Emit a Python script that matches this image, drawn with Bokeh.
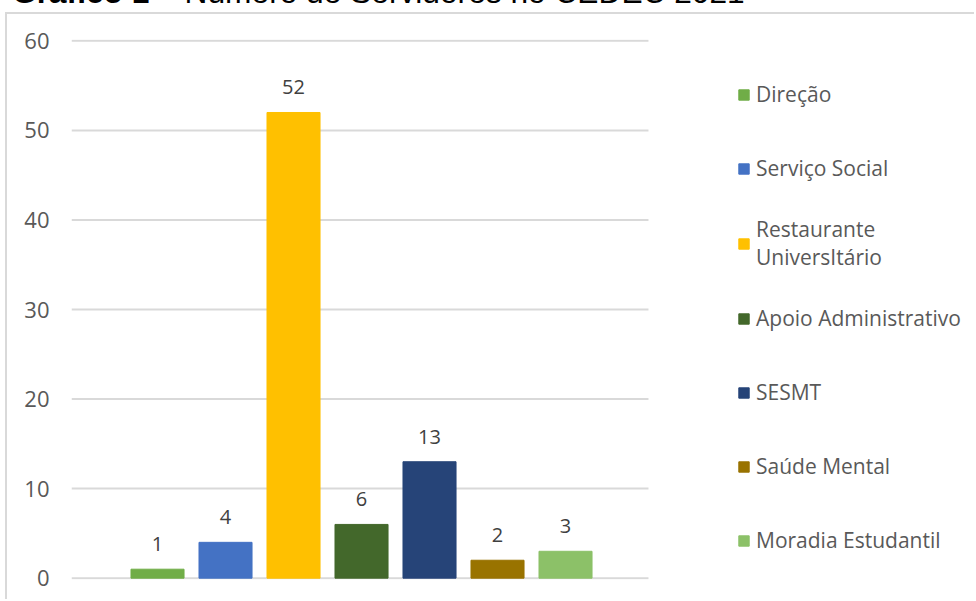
from bokeh.plotting import figure
from bokeh.layouts import column
from bokeh.models import (Range1d, Div, Legend, LegendItem, ColumnDataSource, FixedTicker)
from bokeh.embed import file_html
from bokeh.resources import INLINE
from bokeh.core.properties import value

title_bold = "Gráfico 1"
title_rest = "– Número de Servidores no CEDEC 2021"
categories = ["Direção", "Serviço Social", "Restaurante\nUniversItário",
              "Apoio Administrativo", "SESMT", "Saúde Mental", "Moradia Estudantil"]
values = [1, 4, 52, 6, 13, 2, 3]
colors = ["#70AD47", "#4472C4", "#FFC000", "#43682B", "#264478", "#997300", "#8CC168"]
y_ticks = [0, 10, 20, 30, 40, 50, 60]

FONT = "Open Sans"
TEXT_GRAY = "#595959"
BORDER = "#D9D9D9"

src = ColumnDataSource(dict(
    x=list(range(len(values))),
    top=values,
    color=colors,
    label=[str(v) for v in values],
))

# frame spans the whole area right of the value axis; gridlines stop before the legend
X_START, X_END, GRID_END = -1.265, 12.044, 7.22

p = figure(width=969, height=587, output_backend="svg", toolbar_location=None,
           x_range=Range1d(X_START, X_END), y_range=Range1d(-0.15, 60.15),
           min_border_left=64, min_border_right=0, min_border_top=25,
           min_border_bottom=22,
           styles={"border-left": f"2px solid {BORDER}", "border-top": f"2px solid {BORDER}"})
p.margin = (0, 0, 0, 5)
p.outline_line_color = None
p.background_fill_color = "white"
p.border_fill_color = "white"

p.xaxis.visible = False
p.grid.visible = False
p.yaxis.ticker = FixedTicker(ticks=y_ticks)
p.yaxis.axis_line_color = None
p.yaxis.major_tick_line_color = None
p.yaxis.minor_tick_line_color = None
p.yaxis.major_tick_out = 0
p.yaxis.major_tick_in = 0
p.yaxis.major_label_standoff = 22
p.yaxis.major_label_text_font = FONT
p.yaxis.major_label_text_font_size = "22px"
p.yaxis.major_label_text_color = TEXT_GRAY

# horizontal gridlines at the value-axis ticks
p.segment(x0=X_START, x1=GRID_END, y0=y_ticks, y1=y_ticks,
          line_color=BORDER, line_width=2)

r = p.vbar(x="x", top="top", bottom=0, width=0.78, color="color", source=src)

p.text(x="x", y="top", text="label", source=src, text_align="center",
       text_baseline="middle", y_offset=-25, text_font=value(FONT),
       text_font_size="20px", text_color="#404040")

items = [LegendItem(label=c, renderers=[r], index=i) for i, c in enumerate(categories)]
legend = Legend(items=items, location=(666, 12), orientation="vertical",
                glyph_width=13, glyph_height=13, label_standoff=6,
                label_height=54, spacing=20, padding=0, margin=0,
                label_text_font=FONT, label_text_font_size="21px",
                label_text_color=TEXT_GRAY, label_text_line_height=1.1,
                border_line_color=None, background_fill_alpha=0)
p.add_layout(legend)

title_html = (
    '<div style="position:relative; top:-24px; left:12px; white-space:nowrap; '
    "font-family:'Liberation Sans', Arial, sans-serif; font-size:31.7px; line-height:32px; color:black\">"
    f"<b>{title_bold}</b> {title_rest}</div>"
)
div = Div(text=title_html, width=976, height=12, margin=(0, 0, 0, 0))

layout = column(div, p, spacing=0)
open("out.html", "w").write(file_html(layout, INLINE))
